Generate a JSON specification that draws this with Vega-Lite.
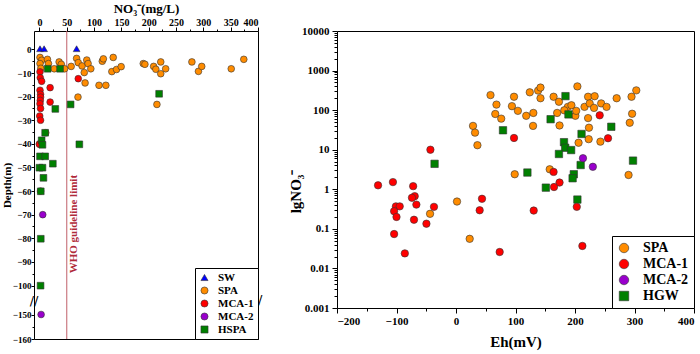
{
  "$schema": "https://vega.github.io/schema/vega-lite/v6.json",
  "background": "white",
  "padding": {"left": 0, "top": 1, "right": 5, "bottom": 2},
  "datasets": {
    "depth": [
      {"g": "SPA", "no3": 1, "depth": -3.4}, {"g": "SPA", "no3": 4, "depth": -4.6}, {"g": "SPA", "no3": 1, "depth": -6}, {"g": "SPA", "no3": 2.5, "depth": -8},
      {"g": "SPA", "no3": 14.6, "depth": -4.2}, {"g": "SPA", "no3": 16.5, "depth": -6}, {"g": "SPA", "no3": 27, "depth": -8.2}, {"g": "SPA", "no3": 36, "depth": -5.3},
      {"g": "SPA", "no3": 40, "depth": -6.3}, {"g": "SPA", "no3": 46, "depth": -8.2}, {"g": "SPA", "no3": 58, "depth": -7.2}, {"g": "SPA", "no3": 68, "depth": -3.8},
      {"g": "SPA", "no3": 71, "depth": -5.6}, {"g": "SPA", "no3": 78, "depth": -7}, {"g": "SPA", "no3": 82, "depth": -9.8}, {"g": "SPA", "no3": 83.5, "depth": -14.2},
      {"g": "SPA", "no3": 86.6, "depth": -4.5}, {"g": "SPA", "no3": 89, "depth": -6}, {"g": "SPA", "no3": 94, "depth": -8.2}, {"g": "SPA", "no3": 70.5, "depth": -20.2},
      {"g": "SPA", "no3": 109, "depth": -15.2}, {"g": "SPA", "no3": 121.5, "depth": -15.2}, {"g": "SPA", "no3": 115, "depth": -5}, {"g": "SPA", "no3": 117, "depth": -4},
      {"g": "SPA", "no3": 135, "depth": -3.4}, {"g": "SPA", "no3": 132.5, "depth": -9.4}, {"g": "SPA", "no3": 141, "depth": -8.5}, {"g": "SPA", "no3": 149.5, "depth": -7.3},
      {"g": "SPA", "no3": 190, "depth": -6}, {"g": "SPA", "no3": 193, "depth": -6.3}, {"g": "SPA", "no3": 209, "depth": -7.2}, {"g": "SPA", "no3": 213, "depth": -8.4},
      {"g": "SPA", "no3": 222, "depth": -5.3}, {"g": "SPA", "no3": 222, "depth": -10.3}, {"g": "SPA", "no3": 231, "depth": -8.2}, {"g": "SPA", "no3": 215, "depth": -23.3},
      {"g": "SPA", "no3": 279, "depth": -5.3}, {"g": "SPA", "no3": 291, "depth": -9.3}, {"g": "SPA", "no3": 297, "depth": -7.2}, {"g": "SPA", "no3": 351, "depth": -8.2},
      {"g": "SPA", "no3": 374, "depth": -4.2}, {"g": "SPA", "no3": 11.5, "depth": -35.3}, {"g": "SPA", "no3": 0, "depth": -40}, {"g": "SPA", "no3": 2, "depth": -60},
      {"g": "MCA-1", "no3": 1, "depth": -9.5}, {"g": "MCA-1", "no3": 1.5, "depth": -12}, {"g": "MCA-1", "no3": 4, "depth": -13.5}, {"g": "MCA-1", "no3": 1, "depth": -17.3},
      {"g": "MCA-1", "no3": 2, "depth": -19}, {"g": "MCA-1", "no3": 2, "depth": -20.2}, {"g": "MCA-1", "no3": 1.5, "depth": -21.6}, {"g": "MCA-1", "no3": 1, "depth": -23},
      {"g": "MCA-1", "no3": 2, "depth": -25}, {"g": "MCA-1", "no3": 0.5, "depth": -28.2}, {"g": "MCA-1", "no3": 2, "depth": -30}, {"g": "MCA-1", "no3": 0, "depth": -40.2},
      {"g": "MCA-1", "no3": 71, "depth": -12.4}, {"g": "MCA-1", "no3": 19.5, "depth": -16.2}, {"g": "MCA-1", "no3": 19.5, "depth": -22.3},
      {"g": "MCA-2", "no3": 6, "depth": -70}, {"g": "MCA-2", "no3": 3, "depth": -150},
      {"g": "HSPA", "no3": 15, "depth": -8.2}, {"g": "HSPA", "no3": 37.7, "depth": -8.2}, {"g": "HSPA", "no3": 219, "depth": -18.8}, {"g": "HSPA", "no3": 57, "depth": -23.3},
      {"g": "HSPA", "no3": 29, "depth": -25.2}, {"g": "HSPA", "no3": 10.4, "depth": -35.3}, {"g": "HSPA", "no3": 4, "depth": -38.5}, {"g": "HSPA", "no3": 5.5, "depth": -40.4},
      {"g": "HSPA", "no3": 73, "depth": -40.2}, {"g": "HSPA", "no3": 1, "depth": -45.3}, {"g": "HSPA", "no3": 10.5, "depth": -45.3}, {"g": "HSPA", "no3": 24.5, "depth": -48.4},
      {"g": "HSPA", "no3": 0, "depth": -50.1}, {"g": "HSPA", "no3": 5.5, "depth": -50.1}, {"g": "HSPA", "no3": 7.3, "depth": -54.4}, {"g": "HSPA", "no3": 2.4, "depth": -60.1},
      {"g": "HSPA", "no3": 2.4, "depth": -80.2}, {"g": "HSPA", "no3": 2, "depth": -100.3},
      {"g": "SW", "no3": 1, "depth": 0.3}, {"g": "SW", "no3": 8.5, "depth": 0.3}, {"g": "SW", "no3": 68, "depth": 0.3}
    ],
    "eh": [
      {"g": "SPA", "eh": 58, "no3": 240}, {"g": "SPA", "eh": 97.5, "no3": 218}, {"g": "SPA", "eh": 68, "no3": 138}, {"g": "SPA", "eh": 94, "no3": 126},
      {"g": "SPA", "eh": 124, "no3": 282}, {"g": "SPA", "eh": 138, "no3": 312}, {"g": "SPA", "eh": 142, "no3": 372}, {"g": "SPA", "eh": 142, "no3": 200},
      {"g": "SPA", "eh": 164, "no3": 218}, {"g": "SPA", "eh": 173, "no3": 163}, {"g": "SPA", "eh": 204, "no3": 398}, {"g": "SPA", "eh": 222, "no3": 218},
      {"g": "SPA", "eh": 233, "no3": 225}, {"g": "SPA", "eh": 244, "no3": 148}, {"g": "SPA", "eh": 253, "no3": 121}, {"g": "SPA", "eh": 270, "no3": 200},
      {"g": "SPA", "eh": 295, "no3": 218}, {"g": "SPA", "eh": 303, "no3": 316}, {"g": "SPA", "eh": 66, "no3": 80}, {"g": "SPA", "eh": 76, "no3": 61},
      {"g": "SPA", "eh": 104, "no3": 96}, {"g": "SPA", "eh": 118, "no3": 72}, {"g": "SPA", "eh": 130, "no3": 85}, {"g": "SPA", "eh": 129.5, "no3": 40},
      {"g": "SPA", "eh": 28.6, "no3": 40}, {"g": "SPA", "eh": 32, "no3": 27}, {"g": "SPA", "eh": 36, "no3": 13}, {"g": "SPA", "eh": 98.7, "no3": 2.4},
      {"g": "SPA", "eh": 1.7, "no3": 0.49}, {"g": "SPA", "eh": -43.6, "no3": 0.24}, {"g": "SPA", "eh": 170, "no3": 85}, {"g": "SPA", "eh": 174, "no3": 41},
      {"g": "SPA", "eh": 188, "no3": 121}, {"g": "SPA", "eh": 194, "no3": 133}, {"g": "SPA", "eh": 200.6, "no3": 72}, {"g": "SPA", "eh": 202, "no3": 96},
      {"g": "SPA", "eh": 216, "no3": 121}, {"g": "SPA", "eh": 224.7, "no3": 148}, {"g": "SPA", "eh": 232, "no3": 114}, {"g": "SPA", "eh": 222, "no3": 63},
      {"g": "SPA", "eh": 223.5, "no3": 36}, {"g": "SPA", "eh": 206, "no3": 15}, {"g": "SPA", "eh": 223, "no3": 18.5}, {"g": "SPA", "eh": 242.7, "no3": 16},
      {"g": "SPA", "eh": 296, "no3": 81}, {"g": "SPA", "eh": 292, "no3": 48}, {"g": "SPA", "eh": 290, "no3": 2.3}, {"g": "SPA", "eh": 157.5, "no3": 3.2},
      {"g": "SPA", "eh": 23, "no3": 0.056}, {"g": "SPA", "eh": 182, "no3": 99},
      {"g": "HGW", "eh": 184, "no3": 226}, {"g": "HGW", "eh": 159, "no3": 59}, {"g": "HGW", "eh": 189, "no3": 78}, {"g": "HGW", "eh": 79, "no3": 31},
      {"g": "HGW", "eh": 211, "no3": 25}, {"g": "HGW", "eh": 261, "no3": 38}, {"g": "HGW", "eh": 181.5, "no3": 15.5}, {"g": "HGW", "eh": 183.5, "no3": 11.2},
      {"g": "HGW", "eh": 193.5, "no3": 9.8}, {"g": "HGW", "eh": 173, "no3": 7.8}, {"g": "HGW", "eh": -36, "no3": 4.4}, {"g": "HGW", "eh": 120, "no3": 2.65},
      {"g": "HGW", "eh": 151, "no3": 1.1}, {"g": "HGW", "eh": 209.5, "no3": 4.1}, {"g": "HGW", "eh": 297.5, "no3": 5.3}, {"g": "HGW", "eh": 198, "no3": 2.4},
      {"g": "HGW", "eh": 196, "no3": 1.9}, {"g": "HGW", "eh": 204, "no3": 0.55},
      {"g": "MCA-1", "eh": 241.5, "no3": 74}, {"g": "MCA-1", "eh": 255.5, "no3": 19.5}, {"g": "MCA-1", "eh": 97.5, "no3": 19.8}, {"g": "MCA-1", "eh": -43, "no3": 10},
      {"g": "MCA-1", "eh": -131, "no3": 1.26}, {"g": "MCA-1", "eh": -106, "no3": 1.52}, {"g": "MCA-1", "eh": -72, "no3": 1.2}, {"g": "MCA-1", "eh": -69.4, "no3": 0.67},
      {"g": "MCA-1", "eh": -74, "no3": 0.61}, {"g": "MCA-1", "eh": -66.6, "no3": 0.41}, {"g": "MCA-1", "eh": -101, "no3": 0.37}, {"g": "MCA-1", "eh": -94.6, "no3": 0.37},
      {"g": "MCA-1", "eh": -104, "no3": 0.28}, {"g": "MCA-1", "eh": -100, "no3": 0.2}, {"g": "MCA-1", "eh": -70.6, "no3": 0.17}, {"g": "MCA-1", "eh": -37, "no3": 0.36},
      {"g": "MCA-1", "eh": -49.7, "no3": 0.135}, {"g": "MCA-1", "eh": -104, "no3": 0.074}, {"g": "MCA-1", "eh": -86, "no3": 0.024}, {"g": "MCA-1", "eh": 43.7, "no3": 0.575},
      {"g": "MCA-1", "eh": 39.8, "no3": 0.295}, {"g": "MCA-1", "eh": 73.4, "no3": 0.026}, {"g": "MCA-1", "eh": 130.6, "no3": 0.29}, {"g": "MCA-1", "eh": 164, "no3": 2.75},
      {"g": "MCA-1", "eh": 174, "no3": 1.48}, {"g": "MCA-1", "eh": 164.7, "no3": 1.14}, {"g": "MCA-1", "eh": 203, "no3": 0.36}, {"g": "MCA-1", "eh": 212.4, "no3": 0.037},
      {"g": "MCA-2", "eh": 213.4, "no3": 6.1}, {"g": "MCA-2", "eh": 230, "no3": 3.7}
    ]
  },
  "config": {
    "view": {"stroke": "black", "strokeWidth": 1},
    "axis": {
      "domain": false, "grid": false, "tickColor": "black", "tickWidth": 1,
      "labelFont": "Liberation Serif", "labelFontWeight": "bold", "labelColor": "black",
      "titleFont": "Liberation Serif", "titleFontWeight": "bold", "titleColor": "black"
    },
    "legend": {
      "labelFont": "Liberation Serif", "labelFontWeight": "bold", "labelColor": "black",
      "strokeColor": "black", "fillColor": "white", "symbolStrokeColor": "#333", "symbolStrokeWidth": 0.6
    }
  },
  "spacing": 25,
  "hconcat": [
    {
      "width": 224,
      "height": 308,
      "layer": [
        {
          "data": {"values": [{"lim": 50}]},
          "mark": {"type": "rule", "color": "#c0606a", "strokeWidth": 1},
          "encoding": {"x": {"field": "lim", "type": "quantitative"}}
        },
        {
          "data": {"values": [{"lim": 50, "d": -74, "t": "WHO guideline limit"}]},
          "mark": {"type": "text", "angle": 270, "baseline": "top", "align": "center", "dy": 1, "font": "Liberation Serif", "fontWeight": "bold", "fontSize": 11, "color": "#b02a3a"},
          "encoding": {
            "x": {"field": "lim", "type": "quantitative"},
            "y": {"field": "d", "type": "quantitative"},
            "text": {"field": "t"}
          }
        },
        {
          "data": {"values": [{"bx": -10, "d": -127, "t": "//"}, {"bx": 400, "d": -125, "t": "//"}]},
          "mark": {"type": "text", "fontSize": 13, "font": "DejaVu Sans", "color": "black", "align": "center", "baseline": "middle"},
          "encoding": {
            "x": {"field": "bx", "type": "quantitative"},
            "y": {"field": "d", "type": "quantitative"},
            "text": {"field": "t"}
          }
        },
        {
          "data": {"name": "depth"},
          "mark": {"type": "point", "filled": true, "opacity": 1, "size": 45, "stroke": "#333", "strokeWidth": 0.6},
          "encoding": {
            "x": {
              "field": "no3", "type": "quantitative",
              "scale": {"domain": [-10, 400], "nice": false, "zero": false},
              "axis": {
                "orient": "top", "title": "NO₃⁻(mg/L)", "titleFontSize": 13, "titlePadding": 2, "labelOverlap": false, "tickCount": 200,
                "values": [0, 25, 50, 75, 100, 125, 150, 175, 200, 225, 250, 275, 300, 325, 350, 375, 400],
                "labelExpr": "datum.value % 50 === 0 ? datum.label : ''",
                "tickSize": {"condition": {"test": "datum.value % 50 === 0", "value": 4}, "value": 2},
                "labelFontSize": 10, "labelPadding": 0
              }
            },
            "y": {
              "field": "depth", "type": "quantitative",
              "scale": {"domain": [-160, -150, -100, 7.8], "range": [308, 283.5, 254.5, 0], "nice": false, "zero": false},
              "axis": {
                "title": "Depth(m)", "titleFontSize": 11, "titlePadding": 0, "labelOverlap": false, "tickCount": 200,
                "values": [0, -5, -10, -15, -20, -25, -30, -35, -40, -45, -50, -55, -60, -65, -70, -75, -80, -85, -90, -95, -100, -150, -155, -160],
                "labelExpr": "abs(datum.value) % 10 == 0 ? datum.label : ''",
                "tickSize": {"condition": {"test": "abs(datum.value) % 10 == 0", "value": 3}, "value": 2},
                "labelFontSize": 9, "labelPadding": 0
              }
            },
            "color": {
              "field": "g", "type": "nominal",
              "scale": {"domain": ["SW", "SPA", "MCA-1", "MCA-2", "HSPA"], "range": ["#0000ff", "#ff8c00", "#ff0000", "#9900cc", "#008000"]},
              "legend": {"title": null, "orient": "bottom-right", "offset": 0, "labelFontSize": 11, "symbolSize": 50, "rowPadding": 1, "padding": 4, "labelOffset": 8}
            },
            "shape": {
              "field": "g", "type": "nominal",
              "scale": {"domain": ["SW", "SPA", "MCA-1", "MCA-2", "HSPA"], "range": ["triangle-up", "circle", "circle", "circle", "square"]},
              "legend": {"title": null, "orient": "bottom-right", "offset": 0, "labelFontSize": 11, "symbolSize": 50, "rowPadding": 1, "padding": 4, "labelOffset": 8}
            }
          }
        }
      ]
    },
    {
      "width": 357,
      "height": 277,
      "data": {"name": "eh"},
      "mark": {"type": "point", "filled": true, "opacity": 1, "size": 55, "stroke": "#333", "strokeWidth": 0.6},
      "encoding": {
        "x": {
          "field": "eh", "type": "quantitative",
          "scale": {"domain": [-200, 400], "nice": false, "zero": false},
          "axis": {
            "title": "Eh(mV)", "titleFontSize": 15, "titlePadding": 8, "labelOverlap": false, "tickCount": 200,
            "values": [-200, -150, -100, -50, 0, 50, 100, 150, 200, 250, 300, 350, 400],
            "labelExpr": "datum.value % 100 === 0 ? datum.label : ''",
            "tickSize": {"condition": {"test": "datum.value % 100 === 0", "value": 5}, "value": 3},
            "labelFontSize": 11
          }
        },
        "y": {
          "field": "no3", "type": "quantitative",
          "scale": {"type": "log", "domain": [0.001, 10000], "nice": false},
          "axis": {
            "title": "lgNO₃⁻", "titleFontSize": 15, "titlePadding": -2, "titleY": 160, "format": "~g", "labelOverlap": false, "tickCount": 200,
            "values": [0.001, 0.002, 0.003, 0.004, 0.005, 0.006, 0.007, 0.008, 0.009, 0.01, 0.02, 0.03, 0.04, 0.05, 0.06, 0.07, 0.08, 0.09, 0.1, 0.2, 0.3, 0.4, 0.5, 0.6, 0.7, 0.8, 0.9, 1, 2, 3, 4, 5, 6, 7, 8, 9, 10, 20, 30, 40, 50, 60, 70, 80, 90, 100, 200, 300, 400, 500, 600, 700, 800, 900, 1000, 2000, 3000, 4000, 5000, 6000, 7000, 8000, 9000, 10000],
            "labelExpr": "abs(log(datum.value)/LN10 - round(log(datum.value)/LN10)) < 0.001 ? datum.label : ''",
            "tickSize": {"condition": {"test": "abs(log(datum.value)/LN10 - round(log(datum.value)/LN10)) < 0.001", "value": 5}, "value": 3},
            "labelFontSize": 11, "labelPadding": 3
          }
        },
        "color": {
          "field": "g", "type": "nominal",
          "scale": {"domain": ["SPA", "MCA-1", "MCA-2", "HGW"], "range": ["#ff8c00", "#ff0000", "#9900cc", "#008000"]},
          "legend": {"title": null, "orient": "bottom-right", "offset": 0, "labelFontSize": 14, "symbolSize": 90, "rowPadding": 2, "padding": 5, "labelOffset": 12}
        },
        "shape": {
          "field": "g", "type": "nominal",
          "scale": {"domain": ["SPA", "MCA-1", "MCA-2", "HGW"], "range": ["circle", "circle", "circle", "square"]},
          "legend": {"title": null, "orient": "bottom-right", "offset": 0, "labelFontSize": 14, "symbolSize": 90, "rowPadding": 2, "padding": 5, "labelOffset": 12}
        }
      }
    }
  ],
  "resolve": {
    "scale": {"color": "independent", "shape": "independent", "x": "independent", "y": "independent"},
    "legend": {"color": "independent", "shape": "independent"}
  }
}
